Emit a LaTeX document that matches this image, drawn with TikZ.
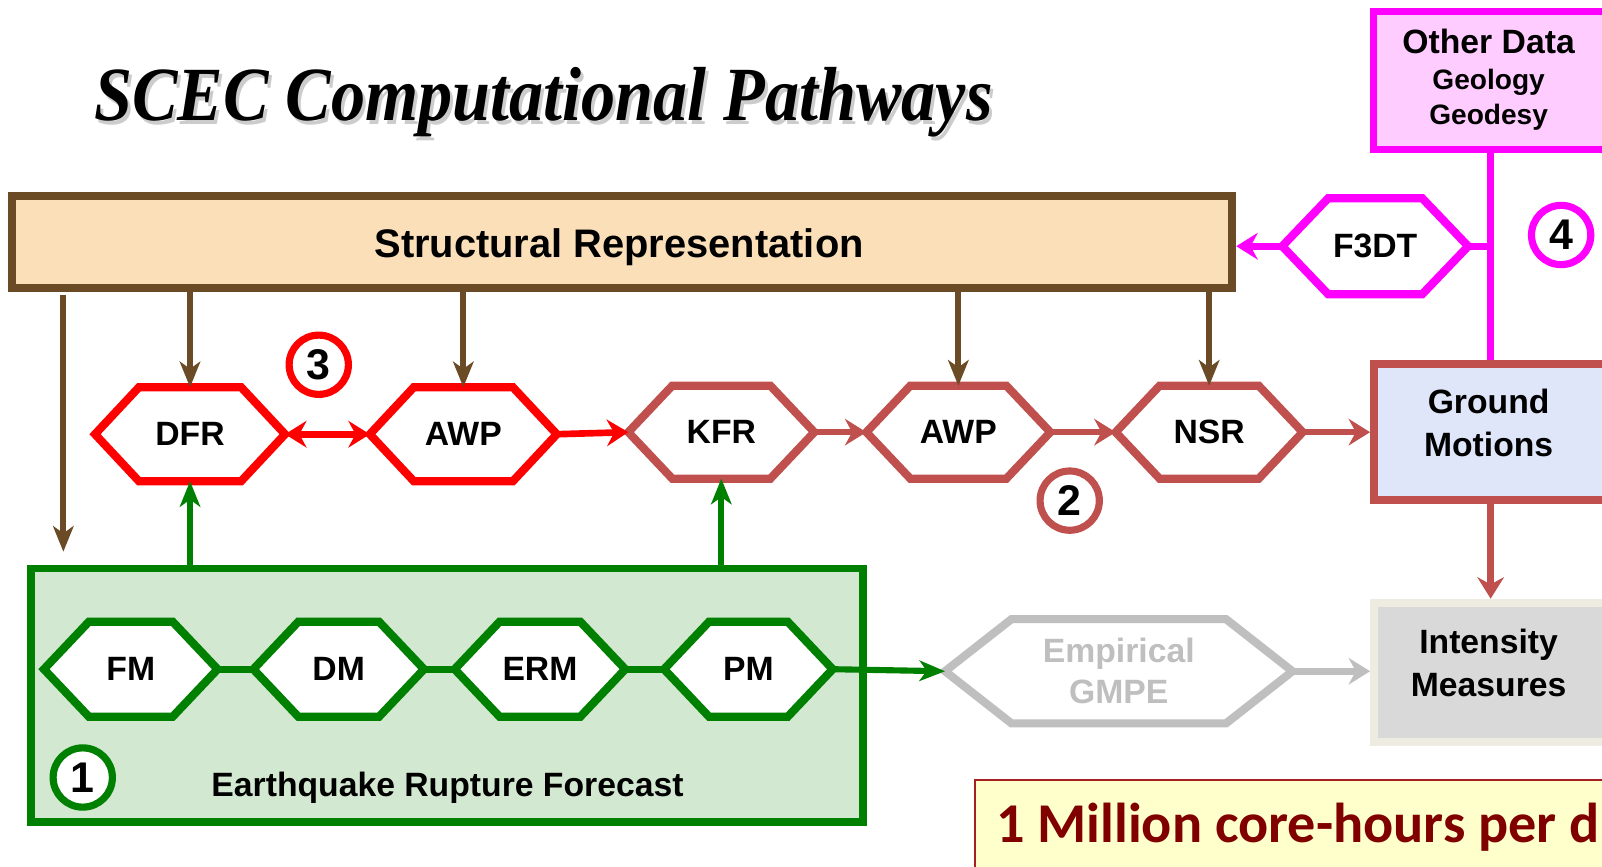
\documentclass[tikz,border=0pt]{standalone}
\usepackage{fontspec}
\setmainfont{Liberation Sans}
\newfontfamily\titlefont{Liberation Serif}
\newfontfamily\califont{Carlito}
\usetikzlibrary{arrows.meta}
\pgfdeclarelayer{bgA}
\pgfdeclarelayer{bgB}
\pgfsetlayers{bgA,bgB,main}

\definecolor{brn}{HTML}{6B4A26}
\definecolor{peach}{HTML}{FBDFB8}
\definecolor{rbr}{HTML}{C0504D}
\definecolor{mag}{HTML}{FF00FF}
\definecolor{pinkfill}{HTML}{FFCCFF}
\definecolor{lav}{HTML}{E0E6FA}
\definecolor{grn}{HTML}{008000}
\definecolor{grnfill}{HTML}{D2E8D0}
\definecolor{gry}{HTML}{BFBFBF}
\definecolor{imfill}{HTML}{D9D9D9}
\definecolor{imline}{HTML}{EEECE1}
\definecolor{yfill}{HTML}{FFFFCC}
\definecolor{yline}{HTML}{A52020}
\definecolor{ytext}{HTML}{800000}

\newcommand\hexshape[3]{\begin{pgfonlayer}{bgB}\draw[#1] (#2.west) -- ([xshift=#3]#2.north west) -- ([xshift=-#3]#2.north east) -- (#2.east) -- ([xshift=-#3]#2.south east) -- ([xshift=#3]#2.south west) -- cycle;\end{pgfonlayer}}

\tikzset{
  hd/.tip={Stealth[length=21pt,width=26pt,inset=7pt]},
  bhd/.tip={Stealth[length=25pt,width=20pt,inset=7pt]},
  hexn/.style={inner sep=0pt, outer sep=0pt, font=\fontsize{33}{40}\selectfont\bfseries, align=center},
  hexline/.style={line width=8pt, fill=white, draw=#1, line join=miter},
  lbl/.style={font=\fontsize{33}{42}\selectfont\bfseries, align=center, inner sep=0pt},
  brarrow/.style={draw=brn, line width=6pt, -{bhd}},
  grarrow/.style={draw=grn, line width=6pt, -{bhd}},
  rarrow/.style={draw=#1, line width=6.5pt, -{hd}},
  numc/.style={circle, draw=#1, line width=7pt, fill=white, minimum size=58pt, inner sep=0pt, font=\fontsize{42}{42}\selectfont\bfseries},
}

\begin{document}
\begin{tikzpicture}[x=1pt,y=-1pt]
\useasboundingbox (0,0) rectangle (1568,848);
\begin{pgfonlayer}{bgA}
\fill[white] (0,0) rectangle (1568,848);
\end{pgfonlayer}
\clip (0,0) rectangle (1568,848);

% title
\node[anchor=base, text=gray!40, font=\titlefont\bfseries\itshape\fontsize{75}{80}\selectfont, inner sep=0pt] (titsh) at (535,122) {\scalebox{0.89}[1]{SCEC Computational Pathways}};
\node[anchor=base, font=\titlefont\bfseries\itshape\fontsize{75}{80}\selectfont, inner sep=0pt] (title) at (532,118) {\scalebox{0.89}[1]{SCEC Computational Pathways}};

% boxes
\node[draw=brn, fill=peach, line width=8pt, minimum width=1194pt, minimum height=90pt, inner sep=0pt] (sr) at (609,237) {};
\node[lbl, font=\fontsize{39}{45}\selectfont\bfseries, anchor=base] (srt) at (606,252) {Structural Representation};

\node[draw=mag, fill=pinkfill, line width=7pt, minimum width=400pt, minimum height=135pt, inner sep=0pt, anchor=north west] (od) at (1341,8) {};
\node[lbl, anchor=base] (odt1) at (1457,52) {Other Data};
\node[lbl, font=\fontsize{27.5}{33}\selectfont\bfseries, anchor=base] (odt2) at (1457,88) {Geology};
\node[lbl, font=\fontsize{27.5}{33}\selectfont\bfseries, anchor=base] (odt3) at (1457,122) {Geodesy};

\node[draw=rbr, fill=lav, line width=8pt, minimum width=400pt, minimum height=133pt, inner sep=0pt, anchor=north west] (gm) at (1341,352) {};
\node[lbl] (gmt) at (1457,414) {Ground\\Motions};

\node[draw=imline, fill=imfill, line width=8pt, minimum width=400pt, minimum height=136pt, inner sep=0pt, anchor=north west] (im) at (1341,586) {};
\node[lbl] (imt) at (1457,649) {Intensity\\Measures};

\begin{pgfonlayer}{bgA}
\node[draw=grn, fill=grnfill, line width=7.5pt, minimum width=814pt, minimum height=248pt, inner sep=0pt] (erf) at (437.5,680.5) {};
\end{pgfonlayer}
\node[lbl, anchor=base] (erft) at (438,780) {Earthquake Rupture Forecast};

\node[draw=yline, fill=yfill, line width=2.5pt, minimum width=800pt, minimum height=200pt, inner sep=0pt, anchor=north west] (yb) at (953,762) {};
\node[anchor=base west, inner sep=0pt, text=ytext, font=\califont\bfseries\fontsize{55}{60}\selectfont] (ybt) at (975,825) {1 Million core-hours per d};

% hexagon row
\node[hexn, minimum width=186pt, minimum height=92pt] (dfr) at (186,425) {DFR};
\node[hexn, minimum width=183pt, minimum height=92pt] (awpa) at (453.5,425) {AWP};
\node[hexn, minimum width=182pt, minimum height=91pt] (kfr) at (706,423) {KFR};
\node[hexn, minimum width=180pt, minimum height=91pt] (awpb) at (938,423) {AWP};
\node[hexn, minimum width=183pt, minimum height=91pt] (nsr) at (1183.5,423) {NSR};
\node[hexn, minimum width=182pt, minimum height=94pt] (f3dt) at (1346,241) {F3DT};
\hexshape{hexline=red}{dfr}{43}
\hexshape{hexline=red}{awpa}{43}
\hexshape{hexline=rbr}{kfr}{43}
\hexshape{hexline=rbr}{awpb}{43}
\hexshape{hexline=rbr}{nsr}{43}
\hexshape{hexline=mag}{f3dt}{45}

% ERF hexagons
\node[hexn, minimum width=170pt, minimum height=93pt] (fm) at (128,655) {FM};
\node[hexn, minimum width=167pt, minimum height=93pt] (dm) at (331.5,655) {DM};
\node[hexn, minimum width=167pt, minimum height=93pt] (erm) at (528.5,655) {ERM};
\node[hexn, minimum width=165pt, minimum height=93pt] (pm) at (732.5,655) {PM};
\hexshape{hexline=grn}{fm}{44}
\hexshape{hexline=grn}{dm}{44}
\hexshape{hexline=grn}{erm}{44}
\hexshape{hexline=grn}{pm}{44}

\node[hexn, text=gry, minimum width=340pt, minimum height=102pt, font=\fontsize{33}{40}\selectfont\bfseries] (gmpe) at (1095,657) {Empirical\\GMPE};
\hexshape{hexline=gry}{gmpe}{65}

% circles
\node[numc=grn] (c1) at (81,761) {1};
\node[numc=rbr] (c2) at (1047,490) {2};
\node[numc=red] (c3) at (312,357) {3};
\node[numc=mag] (c4) at (1528,230) {4};

% coordinates
\coordinate (mj) at (1459,241);
\coordinate (lefttip) at (62,540);

% brown arrows
\draw[brarrow] ([yshift=-3pt]sr.south -| lefttip) -- (lefttip);
\draw[brarrow] (sr.south -| dfr.north) -- (dfr.north);
\draw[brarrow] (sr.south -| awpa.north) -- (awpa.north);
\draw[brarrow] (sr.south -| awpb.north) -- (awpb.north);
\draw[brarrow] (sr.south -| nsr.north) -- (nsr.north);

% red chain
\draw[draw=red, line width=6.5pt, {hd}-{hd}] (dfr.east) -- (awpa.west);
\draw[rarrow=red] (awpa.east) -- (kfr.west);
\draw[rarrow=rbr] (kfr.east) -- (awpb.west);
\draw[rarrow=rbr] (awpb.east) -- (nsr.west);
\draw[rarrow=rbr] (nsr.east) -- (nsr.east -| gm.west);
\draw[rarrow=rbr] (gm.south -| mj) -- (im.north -| mj);

% green
\draw[grarrow] (erf.north -| dfr.south) -- (dfr.south);
\draw[grarrow] (erf.north -| kfr.south) -- (kfr.south);
\draw[draw=grn, line width=7pt] (fm.east) -- (dm.west);
\draw[draw=grn, line width=7pt] (dm.east) -- (erm.west);
\draw[draw=grn, line width=7pt] (erm.east) -- (pm.west);
\draw[grarrow] (pm.east) -- (gmpe.west);

% gray
\draw[rarrow=gry] (gmpe.east) -- (gmpe.east -| im.west);

% magenta
\draw[draw=mag, line width=7pt] (od.south -| mj) -- (gm.north -| mj);
\draw[draw=mag, line width=7pt] (f3dt.east) -- (mj);
\draw[rarrow=mag] (f3dt.west) -- (f3dt.west -| sr.east);
\end{tikzpicture}
\end{document}
